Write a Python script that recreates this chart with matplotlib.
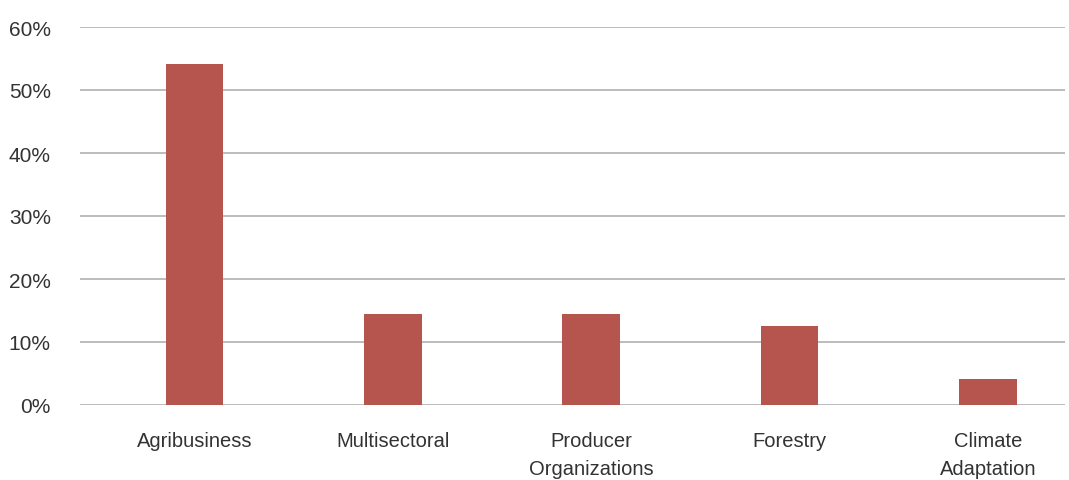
import matplotlib.pyplot as plt
from matplotlib.ticker import PercentFormatter

categories = ["Agribusiness", "Multisectoral", "Producer\nOrganizations", "Forestry", "Climate\nAdaptation"]
shares = [54.1, 14.4, 14.4, 12.6, 4.1]
yticks = [0, 10, 20, 30, 40, 50, 60]

plt.rcParams['font.family'] = ['Liberation Sans', 'DejaVu Sans']

fig = plt.figure(figsize=(10.69, 4.81), dpi=100)
ax = fig.add_axes([80/1069, 75/481, 985/1069, 378/481])

x = range(len(categories))
ax.bar(x, shares, width=0.29, color='#b5554e', zorder=3)

ax.set_xlim(-0.577, 4.388)
ax.set_ylim(0, 60)
ax.set_yticks(yticks)
ax.yaxis.set_major_formatter(PercentFormatter(decimals=0))
ax.grid(axis='y', color='#b0b0b0', lw=1.2, zorder=0)
ax.set_xticks(list(x))
ax.set_xticklabels(categories, fontsize=14.5, color='#333333', linespacing=1.55, va='top')
ax.tick_params(axis='y', labelsize=15, labelcolor='#333333', length=0, pad=21)
ax.tick_params(axis='x', length=0, pad=19)
for s in ax.spines.values():
    s.set_visible(False)

fig.savefig('out.png', dpi=100)
